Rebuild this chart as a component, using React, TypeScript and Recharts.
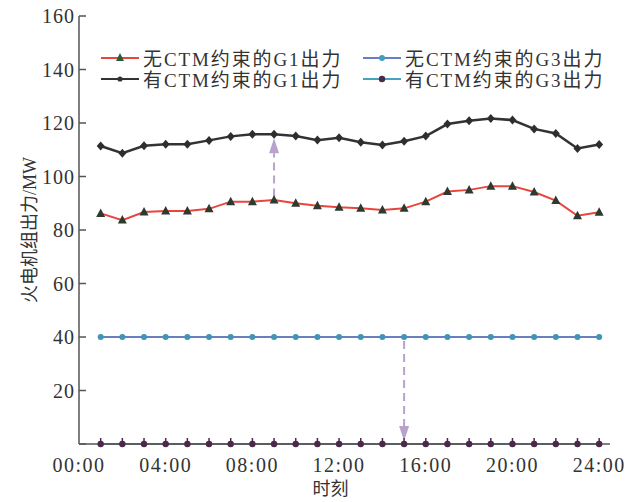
/**
 * 火电机组出力对比图（有/无 CTM 约束）
 */
import {
    LineChart,
    Line,
    XAxis,
    YAxis,
    ReferenceLine,
} from 'recharts';

// 时刻 (h)
const HOURS = [1, 2, 3, 4, 5, 6, 7, 8, 9, 10, 11, 12, 13, 14, 15, 16, 17, 18, 19, 20, 21, 22, 23, 24];
// 无CTM约束的G1出力
const G1_NO_CTM = [86.2, 83.7, 86.7, 87.1, 87.1, 87.9, 90.6, 90.6, 91.2, 90.0, 89.1, 88.5, 88.1, 87.5, 88.1, 90.6, 94.4, 95.0, 96.4, 96.4, 94.2, 91.0, 85.3, 86.6];
// 有CTM约束的G1出力
const G1_CTM = [111.4, 108.7, 111.5, 112.1, 112.1, 113.5, 115.0, 115.8, 115.8, 115.1, 113.6, 114.5, 112.8, 111.8, 113.2, 115.1, 119.6, 120.8, 121.7, 121.1, 117.8, 116.1, 110.5, 112.0];
// 无CTM约束的G3出力
const G3_NO_CTM = [40, 40, 40, 40, 40, 40, 40, 40, 40, 40, 40, 40, 40, 40, 40, 40, 40, 40, 40, 40, 40, 40, 40, 40];
// 有CTM约束的G3出力
const G3_CTM = [0, 0, 0, 0, 0, 0, 0, 0, 0, 0, 0, 0, 0, 0, 0, 0, 0, 0, 0, 0, 0, 0, 0, 0];

const X_TICKS = [0, 4, 8, 12, 16, 20, 24];
const Y_TICKS = [0, 20, 40, 60, 80, 100, 120, 140, 160];

const SERIES_NAMES = ['无CTM约束的G1出力', '无CTM约束的G3出力', '有CTM约束的G1出力', '有CTM约束的G3出力'];

const data = HOURS.map((hour, i) => ({
    hour,
    g1NoCtm: G1_NO_CTM[i],
    g1Ctm: G1_CTM[i],
    g3NoCtm: G3_NO_CTM[i],
    g3Ctm: G3_CTM[i],
}));

const FONT = '"Liberation Serif", "Noto Sans CJK SC", serif';
const AXIS_COLOR = '#555';
const TEXT_COLOR = '#333';
const ARROW_COLOR = '#b9a3cc';

const PLOT_LEFT = 79;
const PLOT_BOTTOM = 444;

// 标记点
const Triangle = ({ cx, cy }: any) => (
    <polygon points={`${cx},${cy - 5} ${cx - 4.5},${cy + 3.5} ${cx + 4.5},${cy + 3.5}`} fill="#2c3a30" />
);
const Diamond = ({ cx, cy }: any) => (
    <polygon points={`${cx},${cy - 4.5} ${cx + 4},${cy} ${cx},${cy + 4.5} ${cx - 4},${cy}`} fill="#2e2e2e" />
);
const CyanDot = ({ cx, cy }: any) => <circle cx={cx} cy={cy} r={3} fill="#3f96b4" />;
const PurpleDot = ({ cx, cy }: any) => (
    <g>
        <line x1={cx} x2={cx} y1={cy - 6} y2={cy} stroke="#4a2a48" strokeWidth={1.5} />
        <circle cx={cx} cy={cy} r={3.2} fill="#4a2a48" />
    </g>
);

// 向内的刻度线
const YTick = ({ y, payload }: any) => (
    <g>
        <line x1={PLOT_LEFT} x2={PLOT_LEFT + 7} y1={y} y2={y} stroke={AXIS_COLOR} strokeWidth={1.5} />
        {payload.value !== 0 && (
            <text x={PLOT_LEFT - 4} y={y} dy="0.35em" textAnchor="end" fontSize={20} letterSpacing={1}
                fontFamily={FONT} fill={TEXT_COLOR}>
                {payload.value}
            </text>
        )}
    </g>
);

const XTick = ({ x, payload }: any) => (
    <text x={x} y={PLOT_BOTTOM + 28} textAnchor="middle" fontSize={20} letterSpacing={1.5}
        fontFamily={FONT} fill={TEXT_COLOR}>
        {`${String(payload.value).padStart(2, '0')}:00`}
    </text>
);

// 虚线箭头
const Arrow = (props: any) => {
    const { x1, y1, x2, y2 } = props;
    const dir = y2 < y1 ? -1 : 1;
    const headLen = 15;
    const baseY = y2 - dir * headLen;
    return (
        <g>
            <line x1={x1} y1={y1} x2={x2} y2={baseY} stroke={ARROW_COLOR} strokeWidth={2} strokeDasharray="8 5" />
            <polygon points={`${x2},${y2} ${x2 - 5},${baseY} ${x2 + 5},${baseY}`} fill={ARROW_COLOR} />
        </g>
    );
};

const legendItems = [
    { name: SERIES_NAMES[0], line: '#e8453c', marker: 'tri' },
    { name: SERIES_NAMES[1], line: '#6a7fc0', marker: 'cyan' },
    { name: SERIES_NAMES[2], line: '#333', marker: 'dot' },
    { name: SERIES_NAMES[3], line: '#45a3c2', marker: 'purple' },
];

const LegendSymbol = ({ line, marker }: any) => (
    <svg width={38} height={14}>
        <line x1={0} x2={38} y1={7} y2={7} stroke={line} strokeWidth={2} />
        {marker === 'tri' && <polygon points="19,2 15,10 23,10" fill="#2c5a3a" />}
        {marker === 'dot' && <circle cx={19} cy={7} r={2.6} fill="#333" />}
        {marker === 'cyan' && <circle cx={19} cy={7} r={3} fill="#3f9fc4" />}
        {marker === 'purple' && <circle cx={19} cy={7} r={3.2} fill="#4a2a48" />}
    </svg>
);

const ChartLegend = () => (
    <div style={{
        position: 'absolute', top: 47, left: 101,
        display: 'grid', gridTemplateColumns: '262px 260px',
        fontFamily: FONT, fontSize: 19, color: TEXT_COLOR,
    }}>
        {legendItems.map((item) => (
            <div key={item.name} style={{ display: 'flex', alignItems: 'center', height: 21 }}>
                <LegendSymbol line={item.line} marker={item.marker} />
                <span style={{ marginLeft: 4, letterSpacing: 1.9, whiteSpace: 'nowrap' }}>{item.name}</span>
            </div>
        ))}
    </div>
);

export default function App() {
    return (
        <div style={{ position: 'absolute', left: 0, top: 0, width: 641, height: 502, background: '#fff' }}>
            <LineChart width={641} height={502} data={data} margin={{ top: 16, right: 31, bottom: 0, left: 0 }}>
                <XAxis
                    dataKey="hour"
                    type="number"
                    domain={[0, 24.5]}
                    ticks={X_TICKS}
                    allowDataOverflow
                    height={58}
                    stroke={AXIS_COLOR}
                    strokeWidth={1.5}
                    tickLine={false}
                    tick={<XTick />}
                    label={{ value: '时刻', position: 'insideBottom', offset: 7, dx: -14, fontSize: 18, fill: TEXT_COLOR, fontFamily: FONT }}
                />
                <YAxis
                    type="number"
                    domain={[0, 160]}
                    ticks={Y_TICKS}
                    width={PLOT_LEFT}
                    stroke={AXIS_COLOR}
                    strokeWidth={1.5}
                    tickLine={false}
                    tick={<YTick />}
                    label={{ value: '火电机组出力/MW', angle: -90, position: 'center', dx: -10, fontSize: 18, fill: TEXT_COLOR, fontFamily: FONT }}
                />

                {/* G3 出力 */}
                <Line dataKey="g3Ctm" name={SERIES_NAMES[3]} stroke="#3d4f5c" strokeWidth={1.5}
                    dot={<PurpleDot />} isAnimationActive={false} />
                <Line dataKey="g3NoCtm" name={SERIES_NAMES[1]} stroke="#6a7fc0" strokeWidth={1.8}
                    dot={<CyanDot />} isAnimationActive={false} />

                {/* G1 出力 */}
                <Line dataKey="g1NoCtm" name={SERIES_NAMES[0]} stroke="#e8453c" strokeWidth={2}
                    dot={<Triangle />} isAnimationActive={false} />
                <Line dataKey="g1Ctm" name={SERIES_NAMES[2]} stroke="#333" strokeWidth={2.5}
                    dot={<Diamond />} isAnimationActive={false} />

                {/* 箭头 */}
                <ReferenceLine segment={[{ x: 9, y: 92.5 }, { x: 9, y: 114.3 }]} shape={<Arrow />} />
                <ReferenceLine segment={[{ x: 15, y: 38.5 }, { x: 15, y: 1.1 }]} shape={<Arrow />} />
            </LineChart>
            <ChartLegend />
        </div>
    );
}
